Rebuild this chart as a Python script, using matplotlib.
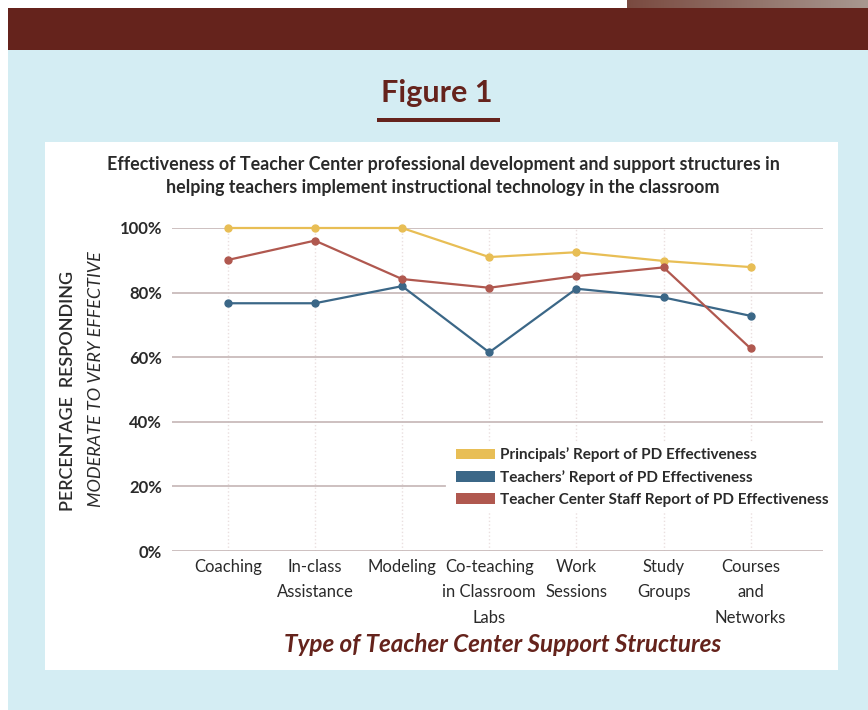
import matplotlib.pyplot as plt
import numpy as np
from matplotlib.patches import Rectangle, Patch
from matplotlib.colors import LinearSegmentedColormap

plt.rcParams['font.family'] = ['Lato', 'DejaVu Sans']

# data
categories = ['Coaching', 'In-class\nAssistance', 'Modeling', 'Co-teaching\nin Classroom\nLabs',
              'Work\nSessions', 'Study\nGroups', 'Courses\nand\nNetworks']
principals = [100, 100, 100, 91.0, 92.5, 89.8, 87.9]
teachers = [76.7, 76.7, 82.0, 61.5, 81.2, 78.5, 72.8]
staff = [90.1, 96.1, 84.2, 81.5, 85.1, 87.8, 62.7]
yticks = [0, 20, 40, 60, 80, 100]
series_names = ["Principals\u2019 Report of PD Effectiveness",
                "Teachers\u2019 Report of PD Effectiveness",
                "Teacher Center Staff Report of PD Effectiveness"]
colors = ['#E8BE55', '#3B6787', '#B0584F']

W, H = 868, 710
maroon = '#65231C'
light_blue = '#D4EDF3'
text_col = '#2A2A2A'

fig = plt.figure(figsize=(W / 100, H / 100), dpi=100)
fig.patch.set_facecolor('white')


def rect(x0, y0, x1, y1, color):
    # pixel box -> figure fraction rectangle
    r = Rectangle((x0 / W, 1 - y1 / H), (x1 - x0) / W, (y1 - y0) / H,
                  transform=fig.transFigure, color=color, zorder=-10, linewidth=0)
    fig.patches.append(r)


rect(8, 50, W, H, light_blue)
rect(8, 8, W, 50, maroon)
rect(45, 142, 838, 670, 'white')
rect(377, 118, 500, 122, maroon)

# gradient strip top right
gax = fig.add_axes([627 / W, 1 - 8 / H, (W - 627) / W, 8 / H])
grad = np.linspace(0, 1, 256).reshape(1, -1)
cmap = LinearSegmentedColormap.from_list('g', ['#7A4A40', '#A89890'])
gax.imshow(grad, aspect='auto', cmap=cmap)
gax.axis('off')

fig.text(437 / W, 1 - 93 / H, 'Figure 1', ha='center', va='center', fontsize=22,
         fontweight='bold', color=maroon)

fig.text(443 / W, 1 - 176 / H,
         'Effectiveness of Teacher Center professional development and support structures in\n'
         'helping teachers implement instructional technology in the classroom',
         ha='center', va='center', fontsize=12.9, fontweight='bold', color=text_col, linespacing=1.4)

# main axes
x0, x1 = 172, 823
y100, y0 = 228, 551
ax = fig.add_axes([x0 / W, 1 - y0 / H, (x1 - x0) / W, (y0 - y100) / H])
ax.set_facecolor('none')
x = np.arange(len(categories))
ax.set_xlim(-0.64, 6.83)
ax.set_ylim(0, 100)

for v in yticks:
    if v == 20:
        ax.axhline(v, xmax=0.42, color='#C9BBBB', lw=1.3, zorder=1)
    else:
        ax.axhline(v, color='#C9BBBB', lw=1.3, zorder=1)
for xi in x:
    ax.axvline(xi, color='#EADFDF', lw=1, ls=':', zorder=0)

for vals, c in zip([principals, teachers, staff], colors):
    ax.plot(x, vals, color=c, lw=1.6, marker='o', ms=5, zorder=3, clip_on=False)

for s in ax.spines.values():
    s.set_visible(False)
ax.set_yticks(yticks)
ax.set_yticklabels([f'{v}%' for v in yticks], fontsize=12, fontweight='bold', color=text_col)
ax.set_xticks(x)
ax.set_xticklabels(categories, fontsize=12, color=text_col, linespacing=1.7)
ax.tick_params(axis='both', length=0)
ax.tick_params(axis='y', pad=7)
ax.tick_params(axis='x', pad=6)

handles = [Patch(facecolor=c, edgecolor='none') for c in colors]
leg = fig.legend(handles, series_names, loc='upper left',
                 bbox_to_anchor=(451 / W, 1 - 443 / H),
                 prop={'weight': 'bold', 'size': 11}, frameon=True, facecolor='white',
                 edgecolor='none', framealpha=1, handlelength=2.6, handleheight=0.7,
                 handletextpad=0.3, labelspacing=0.5, borderpad=0.3, borderaxespad=0)
for t in leg.get_texts():
    t.set_color(text_col)

fig.text(68 / W, 1 - 391 / H, 'PERCENTAGE  RESPONDING', rotation=90, ha='center', va='center',
         fontsize=13, fontweight='semibold', color=text_col)
fig.text(96 / W, 1 - 379 / H, 'MODERATE TO VERY EFFECTIVE', rotation=90, ha='center', va='center',
         fontsize=13, style='italic', color=text_col)

fig.text(503 / W, 1 - 645 / H, 'Type of Teacher Center Support Structures', ha='center', va='center',
         fontsize=17.5, fontweight='bold', style='italic', color=maroon)

fig.savefig('out.png', dpi=100)
